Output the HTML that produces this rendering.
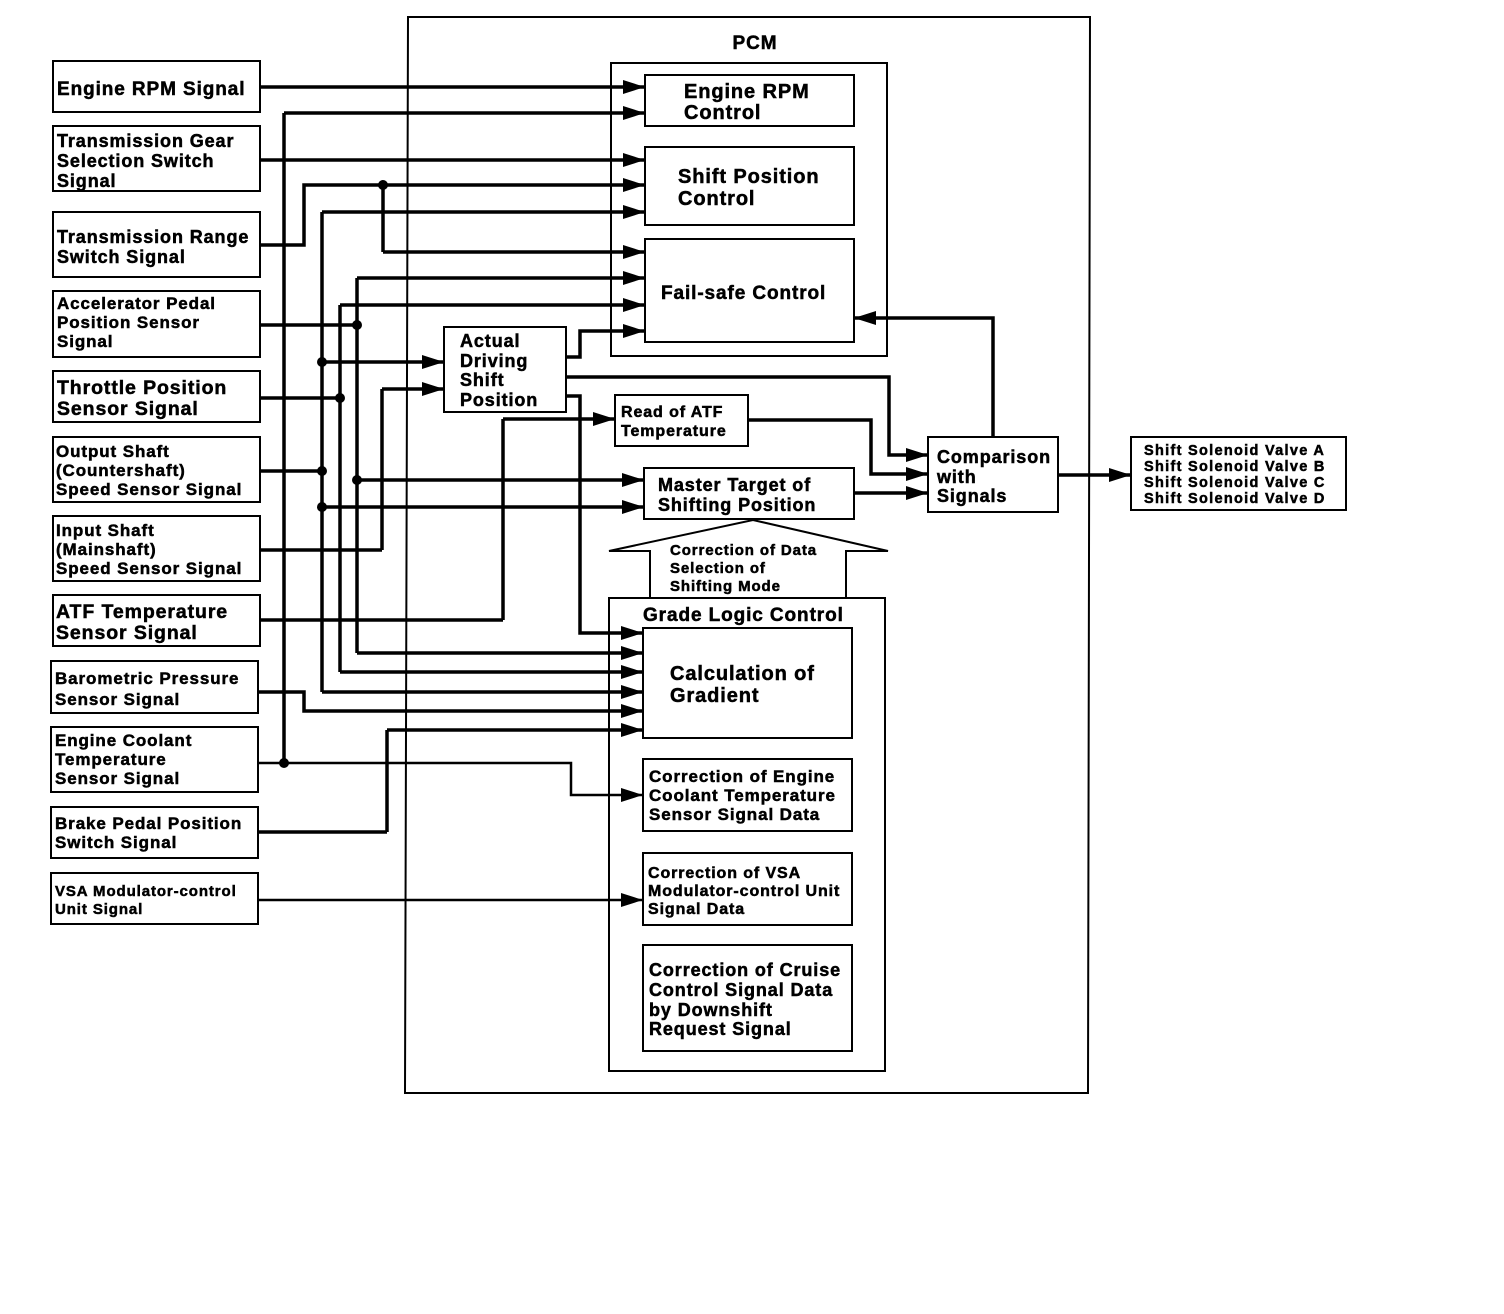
<!DOCTYPE html>
<html><head><meta charset="utf-8"><style>
html,body{margin:0;padding:0;background:#fff;}
svg{display:block;}
text{font-family:"Liberation Sans",Arial,sans-serif;font-weight:bold;fill:#000;stroke:#000;stroke-width:0.5;letter-spacing:0.9px;}
</style></head><body>
<svg width="1504" height="1314" viewBox="0 0 1504 1314" xmlns="http://www.w3.org/2000/svg">
<defs>
<marker id="a" markerUnits="userSpaceOnUse" markerWidth="22" markerHeight="14" refX="22" refY="7" orient="auto">
<path d="M0,0 L22,7 L0,14 z" fill="#000"/>
</marker>
</defs>
<g fill="none" stroke="#000" stroke-width="2">
<rect x="53" y="61" width="207" height="51"/>
<rect x="53" y="126" width="207" height="65"/>
<rect x="53" y="212" width="207" height="65"/>
<rect x="53" y="291" width="207" height="66"/>
<rect x="53" y="371" width="207" height="51"/>
<rect x="53" y="437" width="207" height="65"/>
<rect x="53" y="516" width="207" height="65"/>
<rect x="53" y="595" width="207" height="51"/>
<rect x="51" y="661" width="207" height="52"/>
<rect x="51" y="727" width="207" height="65"/>
<rect x="51" y="807" width="207" height="51"/>
<rect x="51" y="873" width="207" height="51"/>
<path d="M408,17 L1090,17 L1088,1093 L405,1093 Z"/>
<rect x="611" y="63" width="276" height="293"/>
<rect x="645" y="75" width="209" height="51"/>
<rect x="645" y="147" width="209" height="78"/>
<rect x="645" y="239" width="209" height="103"/>
<rect x="444" y="327" width="122" height="85"/>
<rect x="615" y="395" width="133" height="51"/>
<rect x="644" y="468" width="210" height="51"/>
<rect x="928" y="437" width="130" height="75"/>
<rect x="1131" y="437" width="215" height="73"/>
<path d="M650,598 L650,551 L609,551 L753,520 L888,551 L846,551 L846,598"/>
<rect x="609" y="598" width="276" height="473"/>
<rect x="643" y="628" width="209" height="110"/>
<rect x="643" y="759" width="209" height="72"/>
<rect x="643" y="853" width="209" height="72"/>
<rect x="643" y="945" width="209" height="106"/>
</g>
<g fill="none" stroke="#000" stroke-width="3.5">
<line x1="284" y1="113" x2="284" y2="763"/>
<line x1="322" y1="212" x2="322" y2="692"/>
<line x1="340" y1="305" x2="340" y2="672"/>
<line x1="357" y1="278" x2="357" y2="653"/>
<line x1="383" y1="185" x2="383" y2="252"/>
<line x1="382" y1="389" x2="382" y2="550"/>
<line x1="503" y1="419" x2="503" y2="620"/>
<line x1="387" y1="730" x2="387" y2="832"/>
<polyline points="260,87 645,87" marker-end="url(#a)"/>
<polyline points="284,113 645,113" marker-end="url(#a)"/>
<polyline points="260,160 645,160" marker-end="url(#a)"/>
<polyline points="260,245 304,245 304,185 645,185" marker-end="url(#a)"/>
<polyline points="322,212 645,212" marker-end="url(#a)"/>
<polyline points="383,252 645,252" marker-end="url(#a)"/>
<polyline points="357,278 645,278" marker-end="url(#a)"/>
<polyline points="340,305 645,305" marker-end="url(#a)"/>
<polyline points="566,357 580,357 580,331 645,331" marker-end="url(#a)"/>
<line x1="260" y1="325" x2="357" y2="325"/>
<polyline points="322,362 444,362" marker-end="url(#a)"/>
<polyline points="382,389 444,389" marker-end="url(#a)"/>
<line x1="260" y1="398" x2="340" y2="398"/>
<polyline points="566,377 889,377 889,455 928,455" marker-end="url(#a)"/>
<polyline points="566,396 580,396 580,633 643,633" marker-end="url(#a)"/>
<polyline points="503,419 615,419" marker-end="url(#a)"/>
<polyline points="748,420 871,420 871,474 928,474" marker-end="url(#a)"/>
<polyline points="854,493 928,493" marker-end="url(#a)"/>
<polyline points="993,437 993,318 854,318" marker-end="url(#a)"/>
<polyline points="1058,475 1131,475" marker-end="url(#a)"/>
<line x1="260" y1="471" x2="322" y2="471"/>
<polyline points="357,480 644,480" marker-end="url(#a)"/>
<polyline points="322,507 644,507" marker-end="url(#a)"/>
<line x1="260" y1="550" x2="382" y2="550"/>
<line x1="260" y1="620" x2="503" y2="620"/>
<polyline points="357,653 643,653" marker-end="url(#a)"/>
<polyline points="340,672 643,672" marker-end="url(#a)"/>
<polyline points="322,692 643,692" marker-end="url(#a)"/>
<polyline points="258,692 304,692 304,711 643,711" marker-end="url(#a)"/>
<polyline points="387,730 643,730" marker-end="url(#a)"/>
<line x1="258" y1="832" x2="387" y2="832"/>
</g>
<g fill="none" stroke="#000" stroke-width="2.5">
<polyline points="258,763 571,763 571,795 643,795" marker-end="url(#a)"/>
<polyline points="258,900 643,900" marker-end="url(#a)"/>
</g>
<g fill="#000">
<circle cx="383" cy="185" r="5"/>
<circle cx="357" cy="325" r="5"/>
<circle cx="322" cy="362" r="5"/>
<circle cx="340" cy="398" r="5"/>
<circle cx="322" cy="471" r="5"/>
<circle cx="357" cy="480" r="5"/>
<circle cx="322" cy="507" r="5"/>
<circle cx="284" cy="763" r="5"/>
</g>
<text x="57" y="95" font-size="19">Engine RPM Signal</text>
<text font-size="18"><tspan x="57" y="147">Transmission Gear</tspan><tspan x="57" y="167">Selection Switch</tspan><tspan x="57" y="187">Signal</tspan></text>
<text font-size="18"><tspan x="57" y="243">Transmission Range</tspan><tspan x="57" y="263">Switch Signal</tspan></text>
<text font-size="17"><tspan x="57" y="309">Accelerator Pedal</tspan><tspan x="57" y="328">Position Sensor</tspan><tspan x="57" y="347">Signal</tspan></text>
<text font-size="19.5"><tspan x="57" y="394">Throttle Position</tspan><tspan x="57" y="415">Sensor Signal</tspan></text>
<text font-size="17"><tspan x="56" y="457">Output Shaft</tspan><tspan x="56" y="476">(Countershaft)</tspan><tspan x="56" y="495">Speed Sensor Signal</tspan></text>
<text font-size="17"><tspan x="56" y="536">Input Shaft</tspan><tspan x="56" y="555">(Mainshaft)</tspan><tspan x="56" y="574">Speed Sensor Signal</tspan></text>
<text font-size="19.5"><tspan x="56" y="618">ATF Temperature</tspan><tspan x="56" y="639">Sensor Signal</tspan></text>
<text font-size="17"><tspan x="55" y="684">Barometric Pressure</tspan><tspan x="55" y="705">Sensor Signal</tspan></text>
<text font-size="17"><tspan x="55" y="746">Engine Coolant</tspan><tspan x="55" y="765">Temperature</tspan><tspan x="55" y="784">Sensor Signal</tspan></text>
<text font-size="17"><tspan x="55" y="829">Brake Pedal Position</tspan><tspan x="55" y="848">Switch Signal</tspan></text>
<text font-size="15"><tspan x="55" y="896">VSA Modulator-control</tspan><tspan x="55" y="914">Unit Signal</tspan></text>
<text x="755" y="49" font-size="19" text-anchor="middle">PCM</text>
<text font-size="20"><tspan x="684" y="98">Engine RPM</tspan><tspan x="684" y="119">Control</tspan></text>
<text font-size="20"><tspan x="678" y="183">Shift Position</tspan><tspan x="678" y="205">Control</tspan></text>
<text x="661" y="299" font-size="19">Fail-safe Control</text>
<text font-size="18"><tspan x="460" y="347">Actual</tspan><tspan x="460" y="367">Driving</tspan><tspan x="460" y="386">Shift</tspan><tspan x="460" y="406">Position</tspan></text>
<text font-size="16"><tspan x="621" y="417">Read of ATF</tspan><tspan x="621" y="436">Temperature</tspan></text>
<text font-size="18"><tspan x="658" y="491">Master Target of</tspan><tspan x="658" y="511">Shifting Position</tspan></text>
<text font-size="18"><tspan x="937" y="463">Comparison</tspan><tspan x="937" y="483">with</tspan><tspan x="937" y="502">Signals</tspan></text>
<text font-size="14.5" style="letter-spacing:1.3px"><tspan x="1144" y="455">Shift Solenoid Valve A</tspan><tspan x="1144" y="471">Shift Solenoid Valve B</tspan><tspan x="1144" y="487">Shift Solenoid Valve C</tspan><tspan x="1144" y="503">Shift Solenoid Valve D</tspan></text>
<text font-size="15"><tspan x="670" y="555">Correction of Data</tspan><tspan x="670" y="573">Selection of</tspan><tspan x="670" y="591">Shifting Mode</tspan></text>
<text x="643" y="621" font-size="19">Grade Logic Control</text>
<text font-size="20"><tspan x="670" y="680">Calculation of</tspan><tspan x="670" y="702">Gradient</tspan></text>
<text font-size="17"><tspan x="649" y="782">Correction of Engine</tspan><tspan x="649" y="801">Coolant Temperature</tspan><tspan x="649" y="820">Sensor Signal Data</tspan></text>
<text font-size="16"><tspan x="648" y="878">Correction of VSA</tspan><tspan x="648" y="896">Modulator-control Unit</tspan><tspan x="648" y="914">Signal Data</tspan></text>
<text font-size="18"><tspan x="649" y="976">Correction of Cruise</tspan><tspan x="649" y="996">Control Signal Data</tspan><tspan x="649" y="1016">by Downshift</tspan><tspan x="649" y="1035">Request Signal</tspan></text>
</svg>
</body></html>
